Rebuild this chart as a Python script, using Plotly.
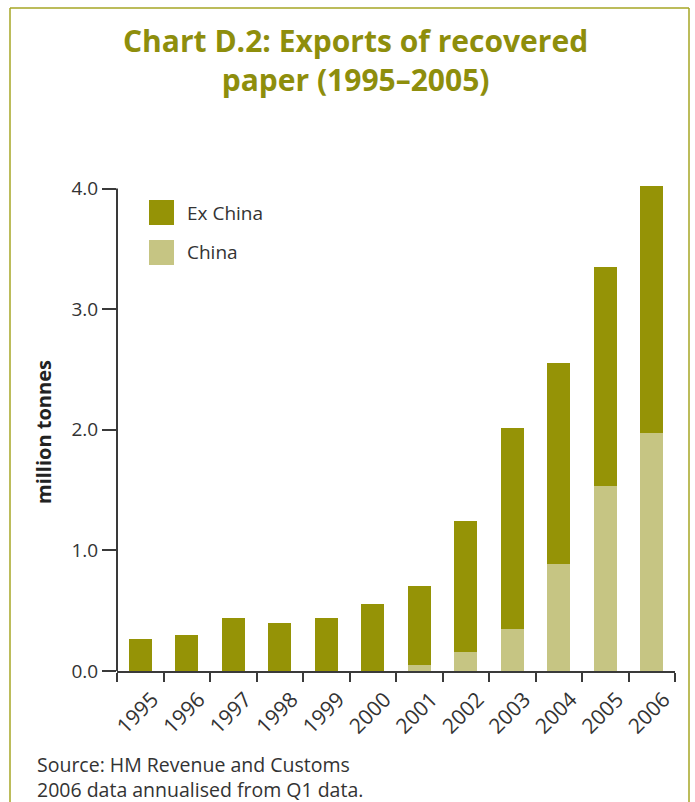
import plotly.graph_objects as go

# Exports of recovered paper, million tonnes
years = ["1995", "1996", "1997", "1998", "1999", "2000",
         "2001", "2002", "2003", "2004", "2005", "2006"]
china = [0.0, 0.0, 0.0, 0.0, 0.0, 0.0, 0.05, 0.155, 0.35, 0.89, 1.53, 1.97]
ex_china = [0.265, 0.295, 0.44, 0.395, 0.44, 0.555, 0.655, 1.09, 1.665, 1.665, 1.82, 2.055]
y_ticks = [0, 1, 2, 3, 4]
y_tick_text = ["0.0", "1.0", "2.0", "3.0", "4.0"]

DARK = "#959306"
LIGHT = "#C6C583"
OLIVE = "#8E8E0C"
FRAME = "#A6A624"
AXIS = "#3a3a3a"
TEXT = "#333333"
FONT = "Open Sans"

Y_MAX = 4.03  # a little headroom so the tallest stack is not cut off

W, H = 695, 802
ML, MR = 117, 20
MB = 131
MT = round(189 - (Y_MAX - 4) * 482 / 4)
PW, PH = W - ML - MR, H - MT - MB


def px(x):
    return (x - ML) / PW


def py(y):
    return (H - MB - y) / PH


fig = go.Figure()
fig.add_trace(go.Bar(x=years, y=china, name="China", marker_color=LIGHT,
                     marker_line_width=0, showlegend=False))
fig.add_trace(go.Bar(x=years, y=ex_china, name="Ex China", marker_color=DARK,
                     marker_line_width=0, showlegend=False))

shapes = []
# value axis line, running from 0 up to the top tick
shapes.append(dict(type="line", xref="paper", yref="y", x0=0, x1=0, y0=0, y1=4,
                   line=dict(color=AXIS, width=2), layer="above"))
# page frame
for x0, y0, x1, y1 in [(10, 8, 10, 810), (10, 8, 689, 8), (689, 8, 689, 810)]:
    shapes.append(dict(type="line", xref="paper", yref="paper",
                       x0=px(x0), y0=py(y0), x1=px(x1), y1=py(y1),
                       line=dict(color=FRAME, width=1.5)))

# legend swatches
legend_items = [("Ex China", DARK, 212.5), ("China", LIGHT, 252.5)]
annotations = []
for label, color, yc in legend_items:
    shapes.append(dict(type="rect", xref="paper", yref="paper",
                       x0=px(149), x1=px(174), y0=py(yc - 12.5), y1=py(yc + 12.5),
                       fillcolor=color, line_width=0))
    annotations.append(dict(text=label, xref="paper", yref="paper",
                            x=px(185), y=py(yc), xanchor="left", yanchor="middle",
                            showarrow=False, font=dict(family=FONT, size=19, color=TEXT)))

# title
annotations.append(dict(text="Chart D.2: Exports of recovered<br>paper (1995\u20132005)",
                        xref="paper", yref="paper", x=px(355), y=py(60),
                        xanchor="center", yanchor="middle", showarrow=False,
                        font=dict(family=FONT, size=30, color=OLIVE, weight="bold")))
# y-axis title
annotations.append(dict(text="million tonnes", xref="paper", yref="paper",
                        x=px(43), y=py(432), textangle=-90,
                        xanchor="center", yanchor="middle", showarrow=False,
                        font=dict(family=FONT, size=20, color="#222222", weight="bold")))
# source note
annotations.append(dict(text="Source: HM Revenue and Customs<br>2006 data annualised from Q1 data.",
                        xref="paper", yref="paper", x=px(35), y=py(777),
                        xanchor="left", yanchor="middle", align="left", showarrow=False,
                        font=dict(family=FONT, size=19.5, color=TEXT)))

fig.update_layout(
    width=W, height=H,
    margin=dict(l=ML, r=MR, t=MT, b=MB),
    paper_bgcolor="white", plot_bgcolor="white",
    barmode="stack", bargap=0.5,
    font=dict(family=FONT, color=TEXT),
    shapes=shapes, annotations=annotations,
    xaxis=dict(type="category", showgrid=False, showline=True, linecolor=AXIS,
               linewidth=2, ticks="outside", tickson="boundaries", ticklen=9,
               tickwidth=2, tickcolor=AXIS, tickangle=-45,
               ticklabelshift=12, ticklabelstandoff=6,
               tickfont=dict(family=FONT, size=21, color=TEXT)),
    yaxis=dict(range=[0, Y_MAX], tickvals=y_ticks, ticktext=y_tick_text,
               showgrid=False, zeroline=False, showline=False,
               ticks="outside", ticklen=14, tickwidth=1.5,
               tickcolor=AXIS, tickfont=dict(family=FONT, size=19, color=TEXT)),
)

fig.write_html("out.html")
